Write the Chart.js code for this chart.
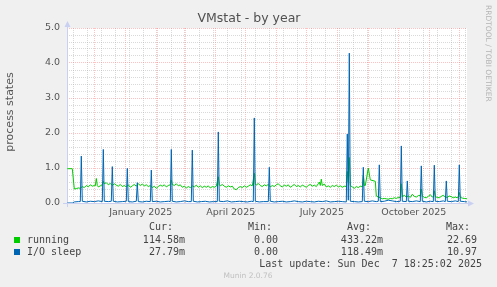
<!DOCTYPE html>
<html>
<head>
<meta charset="utf-8">
<script src="https://cdn.jsdelivr.net/npm/chart.js@4.4.1/dist/chart.umd.min.js"></script>
<style>
  html, body { margin: 0; padding: 0; background: #f0f0f0; }
  canvas { display: block; }
</style>
</head>
<body>
<canvas id="chart" width="497" height="287"></canvas>
<script>
// x values are days counted from 1 Dec 2024
const runningDays = [
  -27, -22, -20, -18, -16, -14, -12, -10, -8, -6, -4, -2, 0, 1, 2, 3, 4, 6, 8, 9,
  10, 12, 14, 16, 18, 20, 22, 24, 26, 28, 30, 32, 34, 36, 38, 40, 42, 44, 46, 48,
  50, 52, 54, 56, 58, 60, 62, 64, 66, 68, 70, 72, 74, 76, 77, 78, 80, 82, 84, 86,
  88, 90, 92, 94, 96, 98, 100, 102, 104, 106, 108, 110, 112, 114, 116, 118, 120, 122, 124, 125,
  126, 128, 130, 132, 134, 136, 138, 140, 142, 144, 146, 148, 150, 152, 154, 156, 158, 160, 161, 162,
  164, 166, 168, 170, 172, 174, 176, 178, 180, 182, 184, 186, 188, 190, 192, 194, 196, 198, 200, 202,
  204, 206, 208, 210, 212, 214, 216, 218, 220, 222, 224, 225, 226, 227, 228, 230, 232, 234, 236, 238,
  240, 242, 244, 246, 248, 250, 252, 253, 254, 255, 256, 258, 260, 262, 264, 266, 268, 269, 270, 271,
  274, 276, 281, 282, 284, 286, 288, 290, 292, 294, 296, 298, 300, 302, 304, 306, 307, 308, 310, 312,
  314, 316, 318, 320, 322, 324, 326, 327, 328, 330, 332, 334, 336, 338, 339, 340, 341, 343, 345, 347,
  349, 351, 353, 355, 357, 359, 361, 363, 364, 365, 366, 368, 370, 373
];
const runningValues = [
  0.98, 0.98, 0.40, 0.41, 0.43, 0.42, 0.47, 0.44, 0.50, 0.46, 0.52, 0.48, 0.50, 0.49, 0.70, 0.50, 0.46, 0.49, 0.52, 0.62,
  0.55, 0.58, 0.52, 0.56, 0.50, 0.55, 0.51, 0.48, 0.53, 0.47, 0.50, 0.46, 0.52, 0.45, 0.49, 0.53, 0.48, 0.55, 0.50, 0.54,
  0.49, 0.52, 0.47, 0.50, 0.44, 0.48, 0.42, 0.47, 0.51, 0.48, 0.52, 0.46, 0.50, 0.52, 0.66, 0.53, 0.50, 0.55, 0.49, 0.52,
  0.45, 0.48, 0.43, 0.47, 0.44, 0.49, 0.46, 0.51, 0.45, 0.49, 0.44, 0.48, 0.45, 0.49, 0.43, 0.47, 0.45, 0.48, 0.75, 0.52,
  0.49, 0.53, 0.48, 0.45, 0.49, 0.46, 0.48, 0.40, 0.38, 0.44, 0.47, 0.44, 0.49, 0.45, 0.48, 0.52, 0.49, 0.85, 0.55, 0.51,
  0.56, 0.50, 0.47, 0.52, 0.49, 0.53, 0.46, 0.50, 0.47, 0.52, 0.55, 0.49, 0.46, 0.51, 0.48, 0.52, 0.45, 0.49, 0.53, 0.47,
  0.50, 0.46, 0.51, 0.48, 0.45, 0.50, 0.53, 0.48, 0.51, 0.47, 0.55, 0.60, 0.50, 0.68, 0.50, 0.54, 0.46, 0.49, 0.45, 0.50,
  0.47, 0.51, 0.46, 0.49, 0.45, 0.48, 0.47, 0.90, 0.60, 1.30, 0.50, 0.46, 0.42, 0.47, 0.44, 0.48, 0.46, 0.80, 0.50, 0.50,
  1.00, 0.66, 0.62, 0.20, 0.17, 0.15, 0.12, 0.13, 0.12, 0.11, 0.13, 0.12, 0.15, 0.13, 0.16, 0.15, 0.55, 0.18, 0.22, 0.17,
  0.20, 0.16, 0.25, 0.19, 0.17, 0.21, 0.22, 0.40, 0.20, 0.16, 0.15, 0.19, 0.24, 0.17, 0.18, 0.35, 0.18, 0.16, 0.15, 0.19,
  0.22, 0.17, 0.16, 0.20, 0.18, 0.15, 0.17, 0.15, 0.18, 0.30, 0.16, 0.14, 0.13, 0.12
];

const ioDays = [
  -27, -22, -20, -16, -14, -13, -12, -8, -4, 0, 4, 8, 9, 10, 14, 17, 18, 19, 23, 28,
  32, 33, 34, 38, 42, 43, 44, 48, 52, 56, 57, 58, 62, 66, 70, 74, 76, 77, 78, 82,
  86, 90, 94, 97, 98, 99, 103, 107, 111, 115, 119, 123, 124, 125, 129, 133, 137, 141, 145, 149,
  153, 157, 159, 160, 161, 165, 169, 174, 175, 176, 180, 184, 188, 192, 196, 200, 204, 208, 212, 216,
  220, 224, 228, 232, 236, 240, 244, 248, 252, 253, 254, 255, 256, 260, 264, 268, 269, 270, 274, 278,
  282, 284, 285, 286, 290, 294, 298, 302, 306, 307, 308, 312, 313, 314, 318, 322, 326, 327, 328, 332,
  336, 339, 340, 341, 345, 349, 351, 352, 353, 357, 361, 364, 365, 366, 370, 373
];
const ioValues = [
  0.00, 0.00, 0.03, 0.04, 0.04, 1.34, 0.05, 0.03, 0.05, 0.04, 0.06, 0.04, 1.53, 0.05, 0.04, 0.05, 1.04, 0.05, 0.03, 0.04,
  0.05, 0.99, 0.04, 0.03, 0.05, 0.58, 0.04, 0.03, 0.05, 0.04, 0.94, 0.04, 0.05, 0.03, 0.04, 0.05, 0.04, 1.53, 0.05, 0.03,
  0.04, 0.06, 0.04, 0.04, 1.51, 0.05, 0.03, 0.04, 0.05, 0.03, 0.04, 0.04, 2.03, 0.05, 0.04, 0.06, 0.03, 0.04, 0.05, 0.04,
  0.03, 0.05, 0.04, 2.43, 0.05, 0.03, 0.04, 0.04, 1.02, 0.05, 0.03, 0.04, 0.05, 0.03, 0.04, 0.06, 0.04, 0.03, 0.05, 0.04,
  0.03, 0.05, 0.04, 0.06, 0.03, 0.04, 0.05, 0.04, 0.03, 1.97, 0.08, 4.28, 0.05, 0.04, 0.03, 0.04, 1.02, 0.05, 0.04, 0.06,
  0.04, 0.05, 1.09, 0.04, 0.05, 0.08, 0.06, 0.04, 0.05, 1.63, 0.05, 0.04, 0.63, 0.05, 0.04, 0.06, 0.04, 1.06, 0.05, 0.03,
  0.05, 0.04, 1.08, 0.05, 0.04, 0.06, 0.04, 0.63, 0.05, 0.04, 0.06, 0.04, 1.09, 0.05, 0.04, 0.03
];

const monthStarts = [0, 31, 62, 90, 121, 151, 182, 212, 243, 274, 304, 335, 365];
const tickLabels = ['January 2025', 'April 2025', 'July 2025', 'October 2025'];
const tickLabelDays = [46.5, 136.5, 227.5, 319.5];

const seriesNames = ['running', 'I/O sleep'];
const curValues = ['114.58m', '27.79m'];
const minValues = ['0.00', '0.00'];
const avgValues = ['433.22m', '118.49m'];
const maxValues = ['22.69', '10.97'];
const lastUpdate = 'Last update: Sun Dec  7 18:25:02 2025';

const GREEN = '#00cc00';
const BLUE = '#0066b3';
const MAJOR = 'rgba(255, 100, 100, 0.4)';
const MINOR = 'rgba(170, 170, 170, 0.45)';

// grey lines every two weeks, red at each month
const minorDays = [];
for (let d = -21; d <= 372; d += 14) minorDays.push(d);
const xTickKind = new Map();
minorDays.forEach(d => xTickKind.set(d, 'minor'));
monthStarts.forEach(d => xTickKind.set(d, 'major'));
tickLabelDays.forEach((d, i) => xTickKind.set(d, 'label' + i));

const yGrid = [];
for (let k = 0; k <= 25; k++) yGrid.push(Math.round(k * 2) / 10);

function toPoints(xs, ys) {
  return xs.map((x, i) => ({ x: x, y: ys[i] }));
}

const muninFrame = {
  id: 'muninFrame',
  beforeDraw(chart) {
    const { ctx, chartArea: a } = chart;
    ctx.save();
    ctx.fillStyle = '#f0f0f0';
    ctx.fillRect(0, 0, chart.width, chart.height);
    ctx.fillStyle = '#ffffff';
    ctx.fillRect(a.left, a.top, a.right - a.left, a.bottom - a.top);
    ctx.restore();
  },
  beforeDatasetsDraw(chart) {
    const { ctx, chartArea: a } = chart;
    ctx.save();
    ctx.strokeStyle = '#c9d0f2';
    ctx.fillStyle = '#c9d0f2';
    ctx.lineWidth = 1;
    ctx.beginPath();
    ctx.moveTo(a.left + 0.5, a.top - 2);
    ctx.lineTo(a.left + 0.5, a.bottom + 4);
    ctx.moveTo(a.left - 4, a.bottom + 0.5);
    ctx.lineTo(a.right + 2, a.bottom + 0.5);
    ctx.stroke();
    // arrow heads
    ctx.beginPath();
    ctx.moveTo(a.left + 0.5, a.top - 7);
    ctx.lineTo(a.left - 2.5, a.top - 1);
    ctx.lineTo(a.left + 3.5, a.top - 1);
    ctx.closePath();
    ctx.fill();
    ctx.beginPath();
    ctx.moveTo(a.right + 7, a.bottom + 0.5);
    ctx.lineTo(a.right + 1, a.bottom - 2.5);
    ctx.lineTo(a.right + 1, a.bottom + 3.5);
    ctx.closePath();
    ctx.fill();
    ctx.restore();
  },
  afterDraw(chart) {
    const ctx = chart.ctx;
    ctx.save();
    ctx.textBaseline = 'middle';

    ctx.fillStyle = '#505050';
    ctx.font = '12.5px "DejaVu Sans"';
    ctx.textAlign = 'center';
    ctx.fillText('VMstat - by year', 249, 19);

    ctx.save();
    ctx.translate(10, 112);
    ctx.rotate(-Math.PI / 2);
    ctx.font = '11px "DejaVu Sans"';
    ctx.fillStyle = '#555';
    ctx.fillText('process states', 0, 0);
    ctx.restore();

    ctx.save();
    ctx.translate(488, 5);
    ctx.rotate(Math.PI / 2);
    ctx.font = '7.5px "DejaVu Sans"';
    ctx.fillStyle = '#b4b4b4';
    ctx.textAlign = 'left';
    ctx.fillText('RRDTOOL / TOBI OETIKER', 0, 0);
    ctx.restore();

    // legend table
    ctx.font = '10px "DejaVu Sans Mono"';
    ctx.fillStyle = '#444';
    ctx.textAlign = 'right';
    ctx.fillText('Cur:', 173, 227);
    ctx.fillText('Min:', 272, 227);
    ctx.fillText('Avg:', 371, 227);
    ctx.fillText('Max:', 470, 227);
    const colors = [GREEN, BLUE];
    seriesNames.forEach((name, i) => {
      const y = 240 + i * 12;
      ctx.fillStyle = colors[i];
      ctx.fillRect(14, y - 3, 6, 6);
      ctx.fillStyle = '#444';
      ctx.textAlign = 'left';
      ctx.fillText(name, 27, y);
      ctx.textAlign = 'right';
      ctx.fillText(curValues[i], 185, y);
      ctx.fillText(minValues[i], 278, y);
      ctx.fillText(avgValues[i], 383, y);
      ctx.fillText(maxValues[i], 477, y);
    });
    ctx.fillText(lastUpdate, 482, 264);

    ctx.font = '7.5px "DejaVu Sans"';
    ctx.fillStyle = '#c0c0c0';
    ctx.textAlign = 'center';
    ctx.fillText('Munin 2.0.76', 248, 276);
    ctx.restore();
  }
};

Chart.defaults.font.family = '"DejaVu Sans"';

new Chart(document.getElementById('chart'), {
  type: 'line',
  data: {
    datasets: [
      {
        label: seriesNames[0],
        data: toPoints(runningDays, runningValues),
        borderColor: GREEN,
        borderWidth: 1,
        pointRadius: 0,
        fill: false,
        tension: 0,
        order: 1
      },
      {
        label: seriesNames[1],
        data: toPoints(ioDays, ioValues),
        borderColor: BLUE,
        borderWidth: 1,
        pointRadius: 0,
        fill: false,
        tension: 0,
        order: 0
      }
    ]
  },
  options: {
    responsive: false,
    animation: false,
    devicePixelRatio: 1,
    layout: { padding: { left: 0, right: 30, top: 28, bottom: 0 } },
    plugins: {
      legend: { display: false },
      title: { display: false },
      tooltip: { enabled: false }
    },
    scales: {
      x: {
        type: 'linear',
        min: -27.3,
        max: 372.7,
        afterBuildTicks: scale => { scale.ticks = Array.from(xTickKind.keys()).sort((a, b) => a - b).map(v => ({ value: v })); },
        afterFit: scale => { scale.height = 84; },
        grid: {
          drawTicks: false,
          lineWidth: 1,
          color: ctx => {
            const kind = ctx.tick ? xTickKind.get(ctx.tick.value) : '';
            if (kind === 'major') return MAJOR;
            if (kind === 'minor') return MINOR;
            return 'rgba(0,0,0,0)';
          }
        },
        border: { display: false, dash: [1, 1] },
        ticks: {
          autoSkip: false,
          maxRotation: 0,
          padding: 4,
          color: '#555',
          font: { size: 9.5 },
          callback: value => {
            const i = tickLabelDays.indexOf(value);
            return i >= 0 ? tickLabels[i] : '';
          }
        }
      },
      y: {
        min: 0,
        max: 5,
        afterBuildTicks: scale => { scale.ticks = yGrid.map(v => ({ value: v })); },
        afterFit: scale => { scale.width = 67; },
        grid: {
          drawTicks: false,
          lineWidth: 1,
          color: ctx => {
            const v = ctx.tick ? ctx.tick.value : 0;
            return Math.abs(v - Math.round(v)) < 1e-6 ? MAJOR : MINOR;
          }
        },
        border: { display: false, dash: [1, 1] },
        ticks: {
          autoSkip: false,
          padding: 7,
          color: '#555',
          font: { size: 9.5 },
          callback: value => Math.abs(value - Math.round(value)) < 1e-6 ? value.toFixed(1) : ''
        }
      }
    }
  },
  plugins: [muninFrame]
});
</script>
</body>
</html>
